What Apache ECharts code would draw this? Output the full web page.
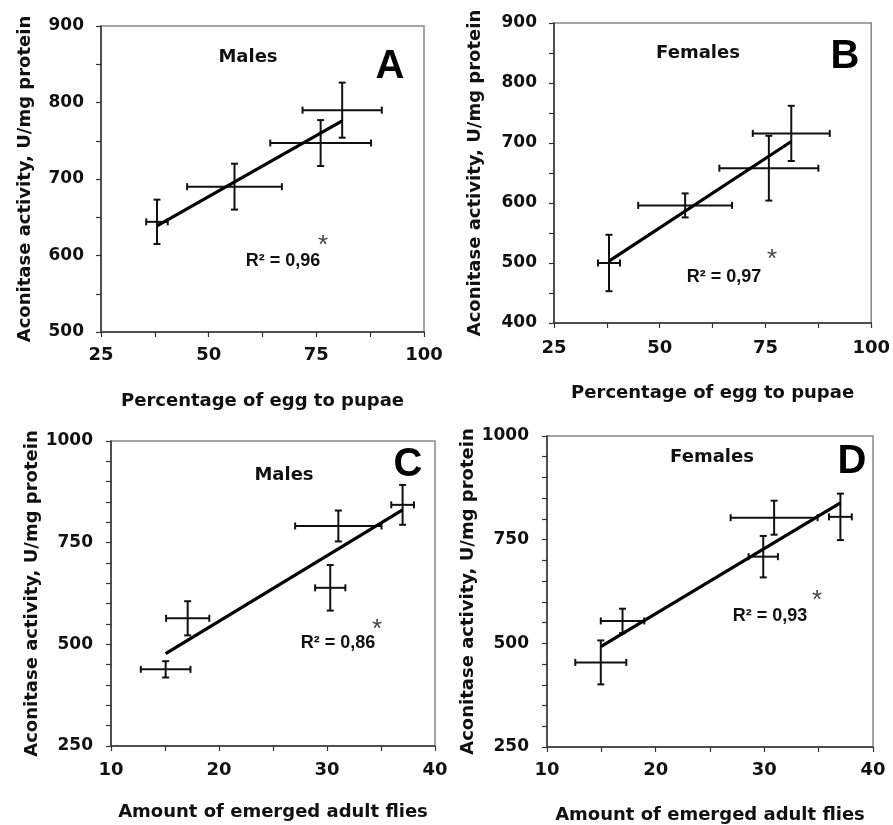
<!DOCTYPE html>
<html>
<head>
<meta charset="utf-8">
<script src="https://cdn.jsdelivr.net/npm/echarts@6/dist/echarts.min.js"></script>
<style>html,body{margin:0;padding:0;background:#fff}#c{width:893px;height:825px}</style>
</head>
<body>
<div id="c"></div>
<script>
// ---- Data ----
// Panel A: Males, percentage of egg to pupae vs aconitase activity
const aX    = [38, 56, 76, 81];
const aY    = [644, 690, 747, 790];
const aXErr = [2.5, 11, 11.7, 9.2];
const aYErr = [29, 30, 30, 36];
// Panel B: Females, percentage of egg to pupae
const bX    = [38, 56, 75.8, 81.1];
const bY    = [500, 596, 658, 716];
const bXErr = [2.6, 11.1, 11.7, 9.1];
const bYErr = [47, 20, 54, 46];
// Panel C: Males, amount of emerged adult flies
const cX    = [15.06, 17.1, 31.05, 37, 30.3];
const cY    = [438.5, 564, 791, 843, 639];
const cXErr = [2.3, 2, 4, 1.05, 1.4];
const cYErr = [20, 42, 38, 49, 56];
// Panel D: Females, amount of emerged adult flies
const dX    = [14.95, 16.95, 29.9, 30.9, 37];
const dY    = [454, 554, 709, 803, 805];
const dXErr = [2.35, 2, 1.35, 4, 1.05];
const dYErr = [53, 29.5, 50, 41, 56];

const panelLetters = ['A', 'B', 'C', 'D'];
const panelSex = ['Males', 'Females', 'Males', 'Females'];
const r2Labels = ['R\u00b2 = 0,96', 'R\u00b2 = 0,97', 'R\u00b2 = 0,86', 'R\u00b2 = 0,93'];
const xTitles = ['Percentage of egg to pupae', 'Percentage of egg to pupae',
                 'Amount of emerged adult flies', 'Amount of emerged adult flies'];
const yTitle = 'Aconitase activity, U/mg protein';

const panels = [
  {x: aX, y: aY, xe: aXErr, ye: aYErr, xmin: 25, xmax: 100, xint: 12.5, xlab: 25, ymin: 500, ymax: 900, yint: 50, ylab: 100},
  {x: bX, y: bY, xe: bXErr, ye: bYErr, xmin: 25, xmax: 100, xint: 12.5, xlab: 25, ymin: 400, ymax: 900, yint: 50, ylab: 100},
  {x: cX, y: cY, xe: cXErr, ye: cYErr, xmin: 10, xmax: 40, xint: 5, xlab: 10, ymin: 250, ymax: 1000, yint: 50, ylab: 250},
  {x: dX, y: dY, xe: dXErr, ye: dYErr, xmin: 10, xmax: 40, xint: 5, xlab: 10, ymin: 250, ymax: 1000, yint: 50, ylab: 250}
];

// layout
const grids = [
  {left: 101, top: 26, width: 323, height: 306},
  {left: 554, top: 23, width: 320, height: 300},
  {left: 111, top: 441, width: 324, height: 305},
  {left: 547, top: 436, width: 326, height: 311}
];
const yNameGap = [67, 70, 68, 66];
const xNameGap = [60, 61, 57, 59];
const xLabMargin = [14, 16, 15, 14];
const yLabMargin = [17, 17, 18, 18];
const annot = [
  {sex: [248, 57], letter: [390, 67], r2: [283, 261], star: [323, 246]},
  {sex: [698, 53], letter: [845, 57], r2: [724, 277], star: [772, 260]},
  {sex: [284, 475], letter: [408, 465], r2: [338, 643], star: [377, 630]},
  {sex: [712, 457], letter: [852, 462], r2: [770, 616], star: [817, 601]}
];

const AXFONT = '"DejaVu Sans", sans-serif';
const FONT = '"Liberation Sans", Arial, sans-serif';

function regression(xs, ys) {
  const n = xs.length;
  const mx = xs.reduce((s, v) => s + v, 0) / n;
  const my = ys.reduce((s, v) => s + v, 0) / n;
  let sxy = 0, sxx = 0;
  for (let i = 0; i < n; i++) { sxy += (xs[i] - mx) * (ys[i] - my); sxx += (xs[i] - mx) ** 2; }
  const b = sxy / sxx, a = my - b * mx;
  const x0 = Math.min(...xs), x1 = Math.max(...xs);
  return [[x0, a + b * x0], [x1, a + b * x1]];
}

const xAxes = [], yAxes = [], series = [], graphics = [];
panels.forEach((p, i) => {
  xAxes.push({
    type: 'value', gridIndex: i, min: p.xmin, max: p.xmax, interval: p.xint,
    name: xTitles[i], nameLocation: 'middle', nameGap: xNameGap[i],
    nameTextStyle: {fontFamily: AXFONT, fontWeight: 'bold', fontSize: 18, color: '#111'},
    axisLine: {show: true, onZero: false, lineStyle: {color: '#333', width: 1.5}},
    axisTick: {show: true, inside: false, length: 5, lineStyle: {color: '#333', width: 1.2}},
    axisLabel: {fontFamily: AXFONT, fontWeight: 'bold', fontSize: 18, color: '#111', margin: xLabMargin[i],
      formatter: v => (Math.abs(v % p.xlab) < 1e-9 ? String(v) : '')},
    splitLine: {show: false}
  });
  yAxes.push({
    type: 'value', gridIndex: i, min: p.ymin, max: p.ymax, interval: p.yint,
    name: yTitle, nameLocation: 'middle', nameGap: yNameGap[i], nameRotate: 90,
    nameTextStyle: {fontFamily: AXFONT, fontWeight: 'bold', fontSize: 18, color: '#111'},
    axisLine: {show: true, onZero: false, lineStyle: {color: '#333', width: 1.5}},
    axisTick: {show: true, inside: false, length: 5, lineStyle: {color: '#333', width: 1.2}},
    axisLabel: {fontFamily: AXFONT, fontWeight: 'bold', fontSize: 17, color: '#111', margin: yLabMargin[i],
      formatter: v => (Math.abs(v % p.ylab) < 1e-9 ? String(v) : '')},
    splitLine: {show: false}
  });
  const ebData = p.x.map((v, k) => [v, p.y[k], p.xe[k], p.ye[k]]);
  series.push({
    type: 'custom', xAxisIndex: i, yAxisIndex: i, data: ebData, z: 3,
    renderItem: (params, api) => {
      const x = api.value(0), y = api.value(1), xe = api.value(2), ye = api.value(3);
      const c = api.coord([x, y]);
      const xl = api.coord([x - xe, y]), xr = api.coord([x + xe, y]);
      const yt = api.coord([x, y + ye]), yb = api.coord([x, y - ye]);
      const cap = 3.5;
      const st = {stroke: '#111', lineWidth: 2};
      const L = (x1, y1, x2, y2) => ({type: 'line', shape: {x1, y1, x2, y2}, style: st});
      return {type: 'group', children: [
        L(xl[0], c[1], xr[0], c[1]),
        L(xl[0], c[1] - cap, xl[0], c[1] + cap),
        L(xr[0], c[1] - cap, xr[0], c[1] + cap),
        L(c[0], yt[1], c[0], yb[1]),
        L(c[0] - cap, yt[1], c[0] + cap, yt[1]),
        L(c[0] - cap, yb[1], c[0] + cap, yb[1])
      ]};
    }
  });
  series.push({
    type: 'line', xAxisIndex: i, yAxisIndex: i, data: regression(p.x, p.y),
    symbol: 'none', lineStyle: {color: '#000', width: 3.2}, z: 4, silent: true
  });
  const a = annot[i];
  graphics.push(
    {type: 'text', x: a.sex[0], y: a.sex[1], style: {text: panelSex[i], fontFamily: AXFONT, fontWeight: 'bold', fontSize: 18, fill: '#111', align: 'center', verticalAlign: 'middle'}},
    {type: 'text', x: a.letter[0], y: a.letter[1], style: {text: panelLetters[i], fontFamily: FONT, fontWeight: 'bold', fontSize: 40, fill: '#000', align: 'center', verticalAlign: 'middle'}},
    {type: 'text', x: a.r2[0], y: a.r2[1], style: {text: r2Labels[i], fontFamily: FONT, fontWeight: 'bold', fontSize: 18, fill: '#111', align: 'center', verticalAlign: 'middle'}},
    {type: 'text', x: a.star[0], y: a.star[1], style: {text: '*', fontFamily: FONT, fontWeight: 'normal', fontSize: 26, fill: '#444', align: 'center', verticalAlign: 'middle'}}
  );
});

const chart = echarts.init(document.getElementById('c'), null, {renderer: 'canvas'});
chart.setOption({
  backgroundColor: '#fff',
  animation: false,
  grid: grids.map(g => Object.assign({show: true, borderColor: '#888', borderWidth: 1.5, backgroundColor: 'transparent'}, g)),
  xAxis: xAxes,
  yAxis: yAxes,
  series: series,
  graphic: graphics
});
</script>
</body>
</html>
